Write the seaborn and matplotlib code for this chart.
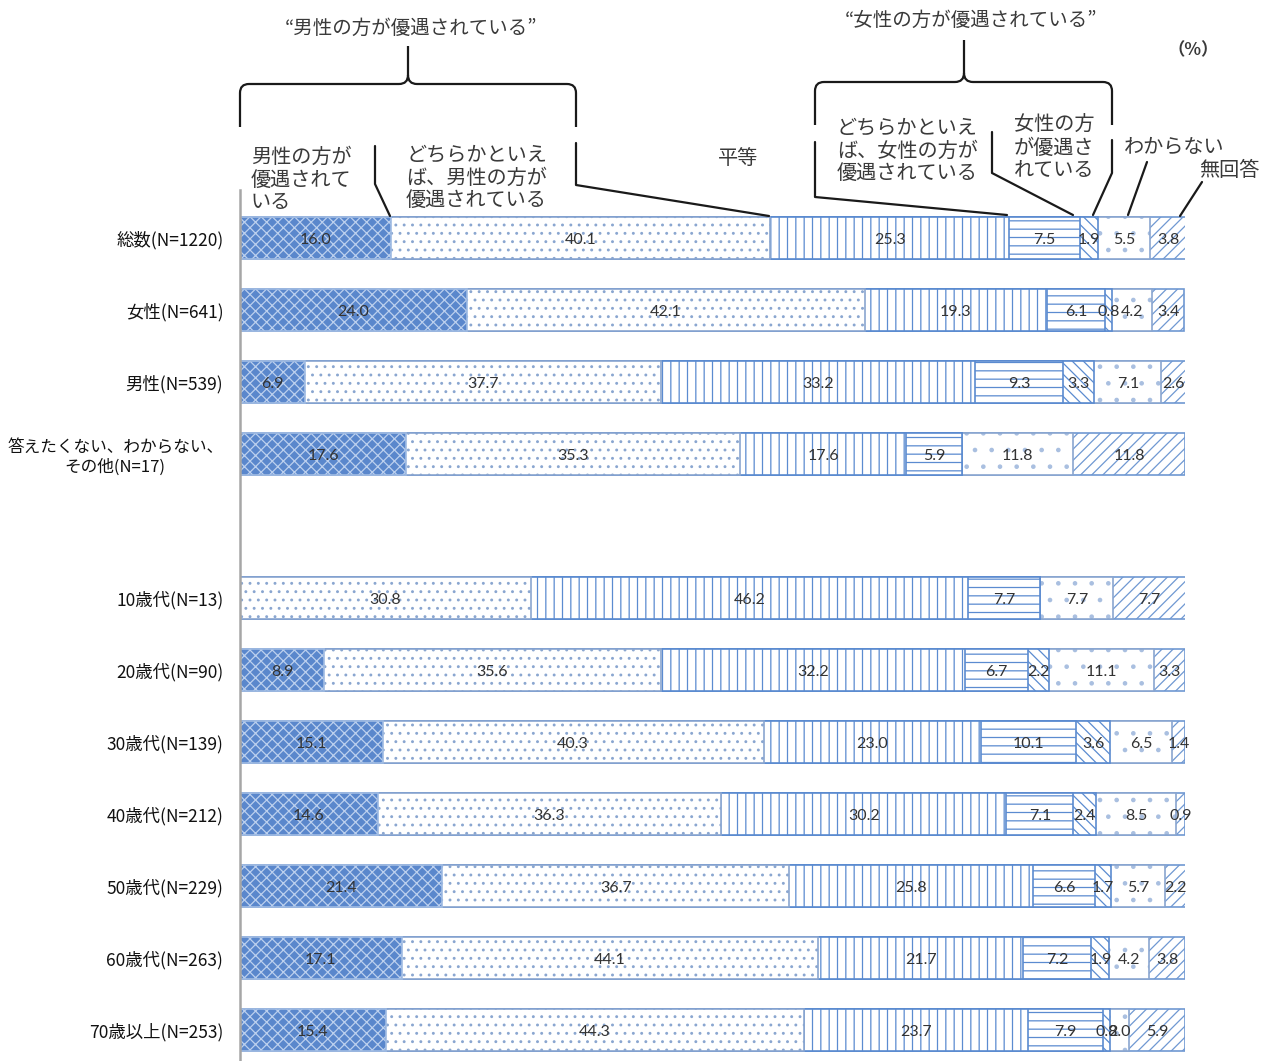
import numpy as np
import pandas as pd
import seaborn as sns
import matplotlib
matplotlib.use("Agg")
import matplotlib.pyplot as plt
from matplotlib.path import Path
from matplotlib.patches import PathPatch
from matplotlib.lines import Line2D

# ---------------- data ----------------
groups = ["総数(N=1220)", "女性(N=641)", "男性(N=539)",
          "答えたくない、わからない、\nその他(N=17)", "",
          "10歳代(N=13)", "20歳代(N=90)", "30歳代(N=139)", "40歳代(N=212)",
          "50歳代(N=229)", "60歳代(N=263)", "70歳以上(N=253)"]
series = ["男性の方が優遇されている", "どちらかといえば男性の方が優遇されている", "平等",
          "どちらかといえば女性の方が優遇されている", "女性の方が優遇されている",
          "わからない", "無回答"]
male_pref = [16.0, 24.0, 6.9, 17.6, 0.0, 8.9, 15.1, 14.6, 21.4, 17.1, 15.4]
rather_male = [40.1, 42.1, 37.7, 35.3, 30.8, 35.6, 40.3, 36.3, 36.7, 44.1, 44.3]
equal = [25.3, 19.3, 33.2, 17.6, 46.2, 32.2, 23.0, 30.2, 25.8, 21.7, 23.7]
rather_female = [7.5, 6.1, 9.3, 5.9, 7.7, 6.7, 10.1, 7.1, 6.6, 7.2, 7.9]
female_pref = [1.9, 0.8, 3.3, 0.0, 0.0, 2.2, 3.6, 2.4, 1.7, 1.9, 0.8]
dont_know = [5.5, 4.2, 7.1, 11.8, 7.7, 11.1, 6.5, 8.5, 5.7, 4.2, 2.0]
no_answer = [3.8, 3.4, 2.6, 11.8, 7.7, 3.3, 1.4, 0.9, 2.2, 3.8, 5.9]

data_groups = [g for g in groups if g != ""]
values = np.array([male_pref, rather_male, equal, rather_female,
                   female_pref, dont_know, no_answer])  # (7, 11)
cum = np.cumsum(values, axis=0)

df = pd.DataFrame({"group": data_groups})
for k in range(len(series)):
    df[f"cum{k}"] = cum[k]

# ---------------- styling ----------------
W, H = 1271, 1061
sns.set_theme(style="white")
plt.rcParams["font.family"] = ["Noto Sans CJK JP", "DejaVu Sans"]
plt.rcParams["hatch.linewidth"] = 0.9

faces = ["#5a87cc", "white", "white", "white", "white", "white", "white"]
hatches = ["xxx", "..", "||", "--", "\\\\\\", ".", "///"]
edges = ["#bcd0ee", "#8aa6d0", "#5b8bd0", "#5b8bd0", "#5b8bd0", "#a9bfe0", "#6f98d2"]
borders = ["#9fbbe3", "#8aa6d0", "#5b8bd0", "#5b8bd0", "#5b8bd0", "#8aa6d0", "#6f98d2"]

fig = plt.figure(figsize=(W / 100, H / 100), dpi=100)
ax_top, ax_bot = 190, 1061
ax = fig.add_axes([240 / W, 1 - ax_bot / H, 945 / W, (ax_bot - ax_top) / H])

for k in reversed(range(len(series))):
    n0 = len(ax.patches)
    sns.barplot(data=df, x=f"cum{k}", y="group", order=groups, orient="h",
                color=faces[k], saturation=1, width=0.58, errorbar=None, ax=ax)
    for p in ax.patches[n0:]:
        p.set_facecolor(faces[k])
        p.set_hatch(hatches[k])
        p.set_edgecolor(edges[k])
        p.set_linewidth(0)
        # outline drawn on the same rectangle geometry
        ol = plt.Rectangle(p.get_xy(), p.get_width(), p.get_height(),
                           fill=False, edgecolor=borders[k], lw=1.2, zorder=p.get_zorder())
        ax.add_patch(ol)

# value labels
pos = {g: i for i, g in enumerate(groups)}
for k in range(len(series)):
    for j, g in enumerate(data_groups):
        v = values[k, j]
        if v <= 0:
            continue
        ax.text(cum[k, j] - v / 2, pos[g] + 0.03, f"{v:.1f}", ha="center", va="center",
                fontsize=11.5, color="#333333", family=["Lato", "DejaVu Sans"], zorder=5)

ax.set_xlim(0, 100)
row0 = 238
ax.set_ylim((ax_bot - row0) / 72, (ax_top - row0) / 72)
ax.set_xlabel("")
ax.set_ylabel("")
ax.set_xticks([])
ax.tick_params(axis="y", length=0, pad=12, labelsize=12.5, labelcolor="#111111")
for lbl in ax.get_yticklabels():
    lbl.set_multialignment("center")
    if "\n" in lbl.get_text():
        lbl.set_fontsize(12)
for s in ["top", "right", "bottom"]:
    ax.spines[s].set_visible(False)
ax.spines["left"].set_color("#a6a6a6")
ax.spines["left"].set_linewidth(1.8)

# ---------------- annotations (pixel coords) ----------------
def P(x, y):
    return (x / W, 1 - y / H)

tc = "#3a3a3a"

def ftext(x, y, s, size=14, ha="left", va="center", **kw):
    fig.text(*P(x, y), s, fontsize=size, ha=ha, va=va, color=tc,
             linespacing=1.12, **kw)

def pline(pts, lw=1.6):
    xs = [p[0] / W for p in pts]
    ys = [1 - p[1] / H for p in pts]
    fig.add_artist(Line2D(xs, ys, transform=fig.transFigure, color="#1a1a1a",
                          lw=lw, solid_joinstyle="round"))

def brace(x0, x1, xm, yh, ytop, yb0, yb1, r=9):
    verts = [(x0, yb0), (x0, yh + r), (x0, yh), (x0 + r, yh),
             (xm - r, yh), (xm, yh), (xm, yh - r), (xm, ytop)]
    codes = [Path.MOVETO, Path.LINETO, Path.CURVE3, Path.CURVE3,
             Path.LINETO, Path.CURVE3, Path.CURVE3, Path.LINETO]
    verts2 = [(x1, yb1), (x1, yh + r), (x1, yh), (x1 - r, yh),
              (xm + r, yh), (xm, yh), (xm, yh - r)]
    codes2 = [Path.MOVETO, Path.LINETO, Path.CURVE3, Path.CURVE3,
              Path.LINETO, Path.CURVE3, Path.CURVE3]
    for vv, cc in ((verts, codes), (verts2, codes2)):
        fv = [P(a, b) for a, b in vv]
        fig.add_artist(PathPatch(Path(fv, cc), transform=fig.transFigure,
                                 fill=False, edgecolor="#1a1a1a", lw=1.6))

# quotes
ftext(411, 28, "“男性の方が優遇されている”", size=14, ha="center")
ftext(971, 20, "“女性の方が優遇されている”", size=14, ha="center")
ftext(1193, 50, "（%）", size=12.5, ha="center", weight="bold")

# braces
brace(240, 576, 408, 84, 46, 127, 127)
brace(815, 1112, 964, 82, 40, 125, 125)

# category labels at top
ftext(251, 180, "男性の方が\n優遇されて\nいる", size=14.5, va="center")
ftext(406, 178, "どちらかといえ\nば、男性の方が\n優遇されている", size=14.5, va="center")
ftext(738, 159, "平等", size=14.5, ha="center")
ftext(837, 151, "どちらかといえ\nば、女性の方が\n優遇されている", size=14.5, va="center")
ftext(1014, 148, "女性の方\nが優遇さ\nれている", size=14.5, va="center")
ftext(1174, 147, "わからない", size=14.5, ha="center")
ftext(1229, 170, "無回答", size=14.5, ha="center")

# leader lines
pline([(375, 146), (375, 184), (390, 216)])
pline([(576, 143), (576, 185), (769, 216)])
pline([(815, 142), (815, 197), (1007, 215)])
pline([(992, 132), (992, 173), (1073, 215)])
pline([(1112, 140), (1112, 173), (1093, 215)])
pline([(1147, 162), (1128, 215)])
pline([(1202, 182), (1180, 216)])

fig.savefig("out.png", dpi=100)
